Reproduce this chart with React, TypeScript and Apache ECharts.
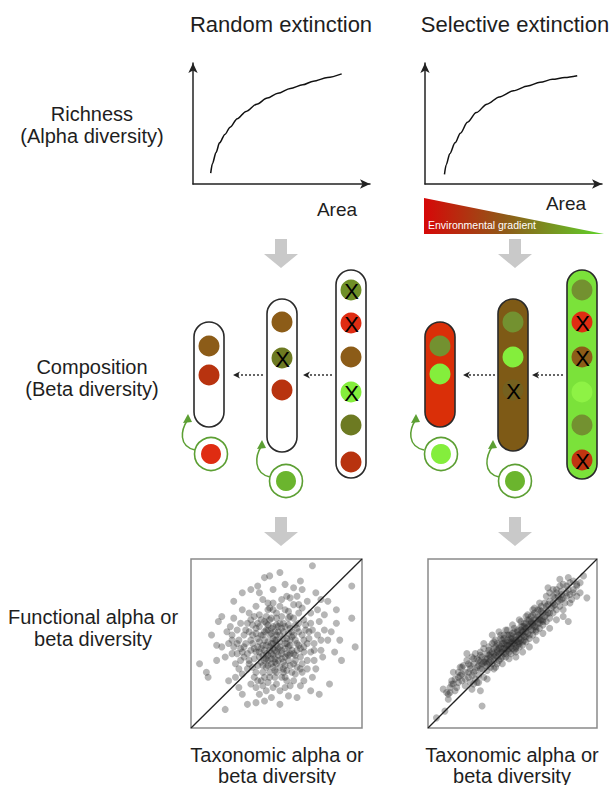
import React, { useEffect, useRef } from "react";
import * as echarts from "echarts";

// ---------- DATA ----------
const columnTitles = ["Random extinction", "Selective extinction"];
const rowLabels = [
  ["Richness", "(Alpha diversity)"],
  ["Composition", "(Beta diversity)"],
  ["Functional alpha or", "beta diversity"],
];
const xAxisTitle = ["Taxonomic alpha or", "beta diversity"];
const richnessAxisName = "Area";
const gradientLabel = "Environmental gradient";

// Richness-area curves (x = area, y = richness) (0-100 scale)
const richnessRandom = [[10, 9], [11, 17], [13, 26], [15, 34], [18, 41], [21, 47], [25, 54], [30, 60], [36, 66], [42, 71], [48, 75], [55, 79], [62, 82], [68, 85], [76, 88], [84, 91]];
const richnessSelective = [[11, 8], [12, 16], [14, 25], [17, 34], [20, 42], [24, 51], [29, 59], [35, 66], [42, 72], [50, 77], [58, 81], [65, 84], [72, 86.5], [79, 88], [86, 89.5]];

// Composition: species in each community (color key, extinct?)
const randomCommunities = [
  [["brown", false], ["rust", false]],
  [["brown", false], ["olive", true], ["rust", false]],
  [["oliveL", true], ["red", true], ["brown", false], ["lime", true], ["olive", false], ["rust", false]],
];
const randomColonists = ["red", "green"];
const selectiveCommunities = [
  [["oliveM", false], ["lime", false]],
  [["oliveM", false], ["lime", false], ["brownD", true]],
  [["oliveM", false], ["red", true], ["brown", true], ["limeL", false], ["oliveM", false], ["rustR", true]],
];
const selectiveColonists = ["lime", "green"];
const selectiveFills = ["redFill", "brownFill", "limeFill"];

// Functional vs taxonomic diversity (0-100 scale)
const scatterRandom = [
  [48,43],[50,45],[45,40],[52,48],[47,50],[55,47],[43,46],[50,38],[58,52],[40,42],[46,55],[53,41],[49,52],[44,36],[56,44],[51,57],[42,49],[59,46],[38,45],[54,53],
  [47,44],[52,36],[45,58],[60,55],[41,39],[57,40],[48,60],[36,50],[62,50],[50,49],[44,44],[53,59],[39,53],[55,37],[46,48],[61,43],[43,57],[49,34],[57,56],[37,41],
  [51,43],[64,47],[40,60],[47,38],[54,62],[35,46],[58,59],[45,51],[50,55],[42,33],[63,57],[48,47],[38,56],[56,50],[44,62],[52,51],[66,52],[34,40],[49,41],[60,38],
  [41,47],[55,60],[47,56],[58,44],[39,37],[53,46],[45,43],[61,61],[36,55],[50,61],[43,40],[57,48],[48,53],[64,42],[40,51],[54,39],[46,64],[59,54],[42,55],[51,47],
  [30,45],[28,52],[25,48],[32,58],[26,38],[33,35],[29,62],[24,55],[31,42],[22,50],[27,44],[35,64],[30,32],[23,60],[34,68],[28,35],[37,30],[41,28],[45,27],[50,26],
  [55,30],[60,28],[65,33],[48,24],[44,22],[52,22],[58,25],[38,24],[62,36],[68,40],[70,45],[72,50],[67,58],[70,62],[74,55],[66,64],[63,68],[58,66],[55,70],[50,68],
  [45,70],[40,67],[38,72],[48,74],[53,76],[60,73],[65,71],[70,68],[75,63],[72,40],[76,46],[78,58],[68,35],[73,35],[64,25],[57,19],[47,18],[40,20],[35,26],[26,30],
  [20,42],[21,57],[18,48],[25,65],[30,70],[42,76],[56,78],[62,78],[68,75],[74,70],[78,67],[80,52],[77,42],[71,30],[66,28],[52,72],[44,66],[36,61],[32,50],[34,38],
  [38,33],[46,30],[54,33],[61,32],[66,45],[69,53],[63,62],[57,65],[50,65],[43,63],[31,55],[27,58],[29,40],[24,44],[62,46],[65,38],[56,28],[49,30],[42,25],
  [71,96],[52,92],[43,89],[46,90],[39,84],[73,80],[94,84],[94,65],[96,48],[5,38],[9,33],[10,30],[20,11],[38,15],[43,16],[81,26],[16,63],[15,49],[87,52],[82,57],
  [30,80],[35,82],[55,85],[60,83],[65,82],[80,75],[85,62],[84,45],[88,40],[75,20],[62,18],[52,14],[30,20],[22,28],[15,40],[12,55],[18,66],[25,75],[40,80],[48,82],
  [64,87],[76,76],[70,22],[33,14],[28,24],[85,70],
  [47,41],[53,44],[49,39],[44,49],[56,53],[51,40],[46,46],[58,49],[42,43],[54,57],[48,50],[61,52],[39,48],[52,55],[45,37],[57,43],[50,52],[43,52],[59,57],[47,59],
  [55,42],[41,55],[63,49],[49,46],[46,33],[54,35],[37,47],[60,44],[52,62],[44,58],[57,61],[48,36],[40,45],[62,59],[35,52],[66,48],[51,60],[45,61],[58,37],[42,37],
  [53,66],[38,59],[65,55],[47,65],[56,34],[33,44],[61,40],[49,57],[44,41],[55,50],[39,62],[67,61],[31,48],[59,33],[46,71],[53,30],[36,36],[69,57],[41,64],[57,69],
  [34,57],[64,35],[50,33],[27,50],[72,46],[43,30],[60,65],[48,70],[37,66],[68,50],[29,47],[55,24],[45,74],[71,58],[24,52],[63,73],[33,62],[76,52],[39,28],[58,77],
];
const scatterSelective = [
  [9,23],[5,6],[10,10],[32,13],[31,22],[94,77],[78,88],[83,89],[86,87],[71,83],[83,63],[80,66],
  [12,20],[14,26],[15,33],[17,24],[18,30],[19,36],[20,28],[21,37],[22,25],[22,33],[23,40],[24,30],[25,35],[25,27],[26,42],[27,33],[27,38],[28,29],
  [28,44],[29,36],[30,40],[30,31],[31,45],[31,35],[32,38],[32,42],[33,30],[33,47],[34,37],[34,41],[35,44],[35,34],[36,48],[36,39],[37,42],[37,36],
  [38,45],[38,50],[39,40],[39,47],[40,43],[40,52],[41,38],[41,46],[42,49],[42,44],[43,41],[43,53],[44,47],[44,50],[45,44],[45,55],[46,49],[46,42],
  [47,52],[47,46],[48,55],[48,49],[49,44],[49,51],[50,53],[50,47],[51,57],[51,50],[52,45],[52,54],[53,51],[53,58],[54,48],[54,55],[55,60],[55,52],
  [56,49],[56,57],[57,62],[57,54],[58,51],[58,59],[59,56],[59,64],[60,53],[60,60],[61,58],[61,66],[62,55],[62,62],[63,60],[63,68],[64,57],[64,64],
  [65,62],[65,70],[66,59],[66,66],[67,64],[67,72],[68,61],[68,68],[69,66],[69,74],[70,63],[70,70],[71,68],[72,65],[72,75],[73,71],[74,68],[74,78],
  [75,73],[76,70],[76,80],[77,75],[78,72],[79,81],[80,77],[81,74],[82,84],[84,79],[85,76],[86,82],[88,85],[90,80],[92,90],
  [42,47],[44,45],[46,51],[48,47],[50,50],[52,52],[54,53],[56,55],[58,57],[43,48],[45,50],[47,49],[49,53],[51,52],[53,55],[55,56],[57,58],[59,60],
  [41,42],[39,44],[37,40],[35,38],[61,62],[63,64],[65,66],[47,55],[49,48],[51,46],[53,49],[55,58],[57,52],[45,47],[43,45],[41,50],[39,42],[60,64],
  [62,58],[64,60],[66,62],[46,44],[50,56],[54,51],[58,62],[44,52],[48,51],[52,48],[56,60],[36,43],[34,39],[32,35],[30,37],[28,34],[26,31],[24,33],
  [20,32],[18,27],[16,22],[14,28],[12,17],[30,27],[27,26],[33,39],[38,38],[40,48],[62,67],[66,70],[70,72],[72,68],[74,74],[77,78],[79,76],[68,64],
  [72,80],[76,82],[80,85],[84,86],[88,84],[82,80],
  [20,36],[23,44],[26,23],[29,27],[33,50],[35,29],[38,55],[40,36],[42,57],[44,38],[46,58],[48,41],[50,61],[52,42],[54,64],[56,45],[58,66],[60,48],
  [62,70],[64,52],[66,74],[68,56],[70,78],[72,59],[74,82],[76,64],[78,84],[80,70],[84,74],[86,80],[88,78],[90,86],[18,33],[16,29],[13,24],[11,21],
  [24,38],[27,41],[31,43],[36,46],[39,51],[43,55],[47,58],[51,59],[55,63],[59,67],[63,71],[67,69],[71,73],[75,77],[79,79],[83,82],[45,53],[49,55],
  [53,57],[57,60],[61,63],[44,42],[48,45],[52,47],[56,51],[60,55],[64,58],[68,63],[37,44],[41,45],[35,41],[31,39],[29,41],[25,37],[22,29],[19,31],
  [15,26],[13,21],[39,35],[42,40],[46,47],[50,51],[54,50],[58,54],[62,61],[66,64],[70,67],[74,72],[78,76],[82,78],
];
const diagonal = [[0, 0], [100, 100]];

// ---------- STYLES ----------
const COLORS: Record<string, string> = {
  brown: "#8c5c18",
  brownD: "#74601f",
  rust: "#b8330f",
  red: "#df2c12",
  olive: "#6d7a22",
  oliveL: "#6f8f27",
  oliveM: "#739130",
  lime: "#84ee3c",
  limeL: "#8ef245",
  rustR: "#c13511",
  green: "#6bb52e",
  redFill: "#da2f08",
  brownFill: "#7e5a16",
  limeFill: "#7be23a",
};
const FONT = '"Liberation Sans", Arial, Helvetica, sans-serif';
const INK = "#1e1e1e";
const RING = "#5c9f33";

function text(t: string, x: number, y: number, size: number, extra: any = {}) {
  return {
    type: "text",
    silent: true,
    style: { text: t, x, y, font: `${size}px ${FONT}`, fill: INK, align: "center", verticalAlign: "middle", ...extra },
  };
}

function grayArrow(cx: number, top: number, headTop: number, tip: number) {
  return {
    type: "polygon",
    shape: {
      points: [
        [cx - 6, top], [cx + 6, top], [cx + 6, headTop], [cx + 17, headTop],
        [cx, tip], [cx - 17, headTop], [cx - 6, headTop],
      ],
    },
    style: { fill: "#c9c9c9" },
  };
}

function dottedArrow(xFrom: number, xTo: number, y: number) {
  return [
    { type: "line", shape: { x1: xFrom, y1: y, x2: xTo + 4, y2: y }, style: { stroke: "#333", lineWidth: 1.3, lineDash: [2, 2] } },
    { type: "polygon", shape: { points: [[xTo, y], [xTo + 7, y - 3.5], [xTo + 5, y], [xTo + 7, y + 3.5]] }, style: { fill: "#222" } },
  ];
}

function capsule(x: number, top: number, bottom: number, species: any[], ys: number[], fill: string) {
  const w = 30;
  const els: any[] = [
    {
      type: "rect",
      shape: { x, y: top, width: w, height: bottom - top, r: 15 },
      style: { fill, stroke: "#2a2a2a", lineWidth: 1.6 },
    },
  ];
  species.forEach((s: any, i: number) => {
    const cy = ys[i];
    els.push({ type: "circle", shape: { cx: x + w / 2, cy, r: 10.5 }, style: { fill: COLORS[s[0]] } });
    if (s[1]) els.push(text("X", x + w / 2 + 0.5, cy + 1, 22, { fill: "#000" }));
  });
  return els;
}

function colonist(cx: number, cy: number, color: string, start: number[], tip: number[]) {
  const [sx, sy] = start;
  const [tx, ty] = tip;
  return [
    { type: "circle", shape: { cx, cy, r: 16.5 }, style: { fill: "#fff", stroke: RING, lineWidth: 1.6 } },
    { type: "circle", shape: { cx, cy, r: 10 }, style: { fill: COLORS[color] } },
    {
      type: "bezierCurve",
      shape: { x1: sx, y1: sy, cpx1: sx - 17, cpy1: sy - 4, cpx2: tx - 7, cpy2: ty + 16, x2: tx - 0.5, y2: ty + 6 },
      style: { stroke: RING, lineWidth: 1.5, fill: null },
    },
    { type: "polygon", shape: { points: [[tx, ty], [tx - 5, ty + 9], [tx + 4, ty + 8]] }, style: { fill: RING } },
  ];
}

export default function App() {
  const ref = useRef<HTMLDivElement>(null);

  useEffect(() => {
    if (!ref.current) return;
    const chart = echarts.init(ref.current, undefined, { renderer: "svg" });

    const graphics: any[] = [];
    // column titles
    graphics.push(text(columnTitles[0], 281, 24, 22));
    graphics.push(text(columnTitles[1], 515, 24, 22));
    // row labels
    graphics.push(text(rowLabels[0][0], 92, 114, 20));
    graphics.push(text(rowLabels[0][1], 92, 136, 20));
    graphics.push(text(rowLabels[1][0], 92, 367, 20));
    graphics.push(text(rowLabels[1][1], 92, 389, 20));
    graphics.push(text(rowLabels[2][0], 93, 617, 20));
    graphics.push(text(rowLabels[2][1], 93, 639, 20));
    // bottom axis titles
    graphics.push(text(xAxisTitle[0], 277, 755, 20));
    graphics.push(text(xAxisTitle[1], 277, 776, 20));
    graphics.push(text(xAxisTitle[0], 512, 755, 20));
    graphics.push(text(xAxisTitle[1], 512, 776, 20));
    // Area labels
    graphics.push(text(richnessAxisName, 337, 209, 19));
    graphics.push(text(richnessAxisName, 566, 203, 19));
    // environmental gradient
    graphics.push({
      type: "polygon",
      shape: { points: [[424, 198], [424, 234], [604, 234]] },
      style: {
        fill: new echarts.graphic.LinearGradient(0, 0, 1, 0, [
          { offset: 0, color: "#d60808" },
          { offset: 0.45, color: "#8f5a18" },
          { offset: 1, color: "#5ed42a" },
        ]),
      },
    });
    graphics.push(text(gradientLabel, 428, 225, 10.5, { fill: "#fff", align: "left" }));

    // gray arrows
    graphics.push(grayArrow(281, 239, 254, 268));
    graphics.push(grayArrow(515, 239, 254, 268));
    graphics.push(grayArrow(281, 517, 532, 546));
    graphics.push(grayArrow(515, 517, 532, 546));

    // composition - random
    graphics.push(...capsule(194, 322, 427, randomCommunities[0], [346, 375], "#fff"));
    graphics.push(...capsule(267, 299, 452, randomCommunities[1], [322, 358, 390], "#fff"));
    graphics.push(...capsule(336, 270, 478, randomCommunities[2], [290, 323, 357, 392, 425, 462], "#fff"));
    graphics.push(...dottedArrow(263, 233, 375));
    graphics.push(...dottedArrow(332, 303, 375));
    graphics.push(...colonist(211, 454, randomColonists[0], [195, 450], [188, 414]));
    graphics.push(...colonist(286, 481, randomColonists[1], [270, 477], [262, 440]));

    // composition - selective
    graphics.push(...capsule(425, 322, 427, selectiveCommunities[0], [346, 374], COLORS[selectiveFills[0]]));
    graphics.push(...capsule(498, 299, 451, selectiveCommunities[1], [322, 357, 390], COLORS[selectiveFills[1]]));
    graphics.push(...capsule(567, 270, 479, selectiveCommunities[2], [290, 322, 357, 392, 425, 460], COLORS[selectiveFills[2]]));
    graphics.push(...dottedArrow(495, 463, 375));
    graphics.push(...dottedArrow(563, 532, 375));
    graphics.push(...colonist(441, 454, selectiveColonists[0], [424, 450], [416, 414]));
    graphics.push(...colonist(515, 481, selectiveColonists[1], [499, 477], [493, 440]));

    const arrowAxis = (idx: number) => ({
      gridIndex: idx,
      type: "value",
      min: 0,
      max: 100,
      axisLine: { show: true, symbol: ["none", "arrow"], symbolSize: [7, 10], lineStyle: { color: "#222", width: 1.5 } },
      axisTick: { show: false },
      axisLabel: { show: false },
      splitLine: { show: false },
    });
    const hiddenAxis = (idx: number) => ({
      gridIndex: idx,
      type: "value",
      min: 0,
      max: 100,
      axisLine: { show: false },
      axisTick: { show: false },
      axisLabel: { show: false },
      splitLine: { show: false },
    });

    const scatterStyle = { color: "rgba(40,40,40,0.42)" };
    const curve = { color: "#111", width: 1.5 };

    chart.setOption({
      animation: false,
      grid: [
        { left: 193, top: 63, width: 177, height: 121 },
        { left: 425, top: 63, width: 177, height: 121 },
        { left: 191, top: 559, width: 171, height: 169, show: true, borderColor: "#8a8a8a", borderWidth: 1.5, backgroundColor: "transparent" },
        { left: 428, top: 559, width: 169, height: 169, show: true, borderColor: "#8a8a8a", borderWidth: 1.5, backgroundColor: "transparent" },
      ],
      xAxis: [arrowAxis(0), arrowAxis(1), hiddenAxis(2), hiddenAxis(3)],
      yAxis: [arrowAxis(0), arrowAxis(1), hiddenAxis(2), hiddenAxis(3)],
      series: [
        { type: "line", xAxisIndex: 0, yAxisIndex: 0, data: richnessRandom, smooth: 0.3, smoothMonotone: "x", showSymbol: false, lineStyle: curve },
        { type: "line", xAxisIndex: 1, yAxisIndex: 1, data: richnessSelective, smooth: 0.3, smoothMonotone: "x", showSymbol: false, lineStyle: curve },
        { type: "scatter", xAxisIndex: 2, yAxisIndex: 2, data: scatterRandom, symbolSize: 7, itemStyle: scatterStyle },
        { type: "scatter", xAxisIndex: 3, yAxisIndex: 3, data: scatterSelective, symbolSize: 7, itemStyle: scatterStyle },
        { type: "line", xAxisIndex: 2, yAxisIndex: 2, data: diagonal, showSymbol: false, lineStyle: { color: "#222", width: 1.3 }, z: 5 },
        { type: "line", xAxisIndex: 3, yAxisIndex: 3, data: diagonal, showSymbol: false, lineStyle: { color: "#222", width: 1.3 }, z: 5 },
      ],
      graphic: { elements: graphics },
    });

    return () => chart.dispose();
  }, []);

  return (
    <div
      ref={ref}
      style={{ position: "absolute", left: 0, top: 0, width: 613, height: 785, background: "#fff" }}
    />
  );
}
